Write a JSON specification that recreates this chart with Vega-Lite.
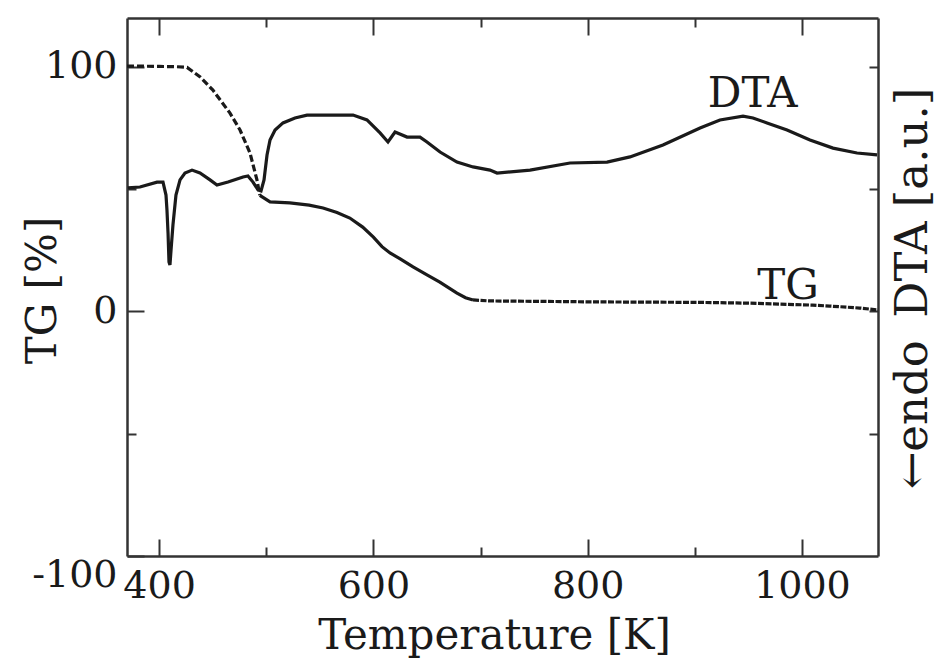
{
  "$schema": "https://vega.github.io/schema/vega-lite/v6.json",
  "width": 751,
  "height": 538,
  "autosize": {"type": "none"},
  "padding": {"left": 127, "top": 18, "right": 63, "bottom": 106},
  "background": "white",
  "config": {
    "view": {"stroke": null},
    "font": "DejaVu Serif",
    "axis": {
      "grid": false,
      "domainColor": "#333333",
      "domainWidth": 2.5,
      "tickColor": "#333333",
      "tickWidth": 2,
      "labelFont": "DejaVu Serif",
      "labelColor": "#1a1a1a",
      "labelFontSize": 38,
      "labelFlush": false,
      "labelOverlap": false,
      "titleFont": "DejaVu Serif",
      "titleColor": "#1a1a1a",
      "titleFontSize": 42,
      "titleFontWeight": "normal"
    }
  },
  "datasets": {
    "tg": [
      {"T": 370, "Y": 100.3}, {"T": 385, "Y": 100.3}, {"T": 400, "Y": 100.2}, {"T": 415, "Y": 100.1},
      {"T": 426, "Y": 99.8}, {"T": 438, "Y": 96.0}, {"T": 450, "Y": 90.6}, {"T": 466, "Y": 81.2},
      {"T": 475.5, "Y": 74.2}, {"T": 484.8, "Y": 64.8}, {"T": 491.3, "Y": 53.8}, {"T": 494, "Y": 47.5},
      {"T": 503.5, "Y": 44.8}, {"T": 522, "Y": 44.4}, {"T": 540, "Y": 43.5}, {"T": 553, "Y": 42.3},
      {"T": 566, "Y": 40.5}, {"T": 578, "Y": 38.2}, {"T": 590, "Y": 34.5}, {"T": 600, "Y": 30.4},
      {"T": 608, "Y": 26.5}, {"T": 615.5, "Y": 23.9}, {"T": 625, "Y": 21.5}, {"T": 637, "Y": 18.2},
      {"T": 650, "Y": 15.0}, {"T": 662, "Y": 12.0}, {"T": 678, "Y": 7.5}, {"T": 686, "Y": 5.6},
      {"T": 693, "Y": 4.7}, {"T": 709, "Y": 4.3}, {"T": 760, "Y": 4.1}, {"T": 811, "Y": 3.9},
      {"T": 860, "Y": 3.8}, {"T": 905, "Y": 3.7}, {"T": 950, "Y": 3.4}, {"T": 980, "Y": 3.0},
      {"T": 1010, "Y": 2.6}, {"T": 1026, "Y": 2.2}, {"T": 1054, "Y": 1.4}, {"T": 1071, "Y": 0.6}
    ],
    "dta": [
      {"T": 370.9, "Y": 50.5}, {"T": 382.1, "Y": 50.9}, {"T": 398.0, "Y": 52.9}, {"T": 403.6, "Y": 52.9},
      {"T": 406.4, "Y": 47.6}, {"T": 407.3, "Y": 41.5}, {"T": 408.3, "Y": 32.1}, {"T": 409.2, "Y": 20.2},
      {"T": 410.1, "Y": 19.0}, {"T": 411.1, "Y": 25.1}, {"T": 412.9, "Y": 35.4}, {"T": 415.7, "Y": 47.6},
      {"T": 419.5, "Y": 53.8}, {"T": 424.1, "Y": 56.6}, {"T": 430.7, "Y": 57.8}, {"T": 438.1, "Y": 56.6},
      {"T": 447.5, "Y": 53.8}, {"T": 454.0, "Y": 51.7}, {"T": 464.3, "Y": 52.9}, {"T": 478.3, "Y": 55.0},
      {"T": 482.9, "Y": 55.4}, {"T": 487.6, "Y": 52.9}, {"T": 492.3, "Y": 49.7}, {"T": 495.1, "Y": 49.3},
      {"T": 497.9, "Y": 53.8}, {"T": 500.7, "Y": 64.0}, {"T": 503.5, "Y": 70.1}, {"T": 508.2, "Y": 74.2},
      {"T": 515.6, "Y": 77.1}, {"T": 526.8, "Y": 79.1}, {"T": 538.0, "Y": 80.3}, {"T": 559.5, "Y": 80.3},
      {"T": 581.0, "Y": 80.3}, {"T": 594.0, "Y": 78.3}, {"T": 606.2, "Y": 73.0}, {"T": 613.6, "Y": 69.3},
      {"T": 620.2, "Y": 73.4}, {"T": 631.4, "Y": 71.3}, {"T": 643.5, "Y": 71.3}, {"T": 650.0, "Y": 69.3},
      {"T": 662.2, "Y": 65.2}, {"T": 678.0, "Y": 61.1}, {"T": 693.0, "Y": 59.1}, {"T": 708.8, "Y": 57.8},
      {"T": 715.4, "Y": 56.6}, {"T": 746.2, "Y": 57.8}, {"T": 783.5, "Y": 60.7}, {"T": 818.1, "Y": 61.1},
      {"T": 839.5, "Y": 63.2}, {"T": 870.3, "Y": 68.1}, {"T": 904.9, "Y": 75.0}, {"T": 923.5, "Y": 78.3},
      {"T": 945.0, "Y": 79.9}, {"T": 954.3, "Y": 79.1}, {"T": 967.4, "Y": 77.1}, {"T": 986.1, "Y": 74.2},
      {"T": 1007.5, "Y": 70.1}, {"T": 1029.0, "Y": 66.8}, {"T": 1051.4, "Y": 64.8}, {"T": 1070.1, "Y": 64.0}
    ]
  },
  "layer": [
    {
      "data": {"name": "tg"},
      "transform": [{"filter": "datum.T <= 494"}],
      "mark": {"type": "line", "color": "#1a1a1a", "strokeWidth": 3.2, "strokeDash": [7, 3]},
      "encoding": {
        "x": {
          "field": "T",
          "type": "quantitative",
          "scale": {"domain": [370, 1071], "nice": false, "zero": false},
          "axis": {
            "orient": "bottom",
            "values": [400, 500, 600, 700, 800, 900, 1000],
            "title": "Temperature [K]",
            "labelExpr": "datum.value % 200 === 0 ? '' + datum.value : ''",
            "tickSize": {"condition": {"test": "datum.value % 200 === 0", "value": -17}, "value": -9},
            "labelPadding": 28,
            "titleX": 367,
            "titleY": 92,
            "titleAlign": "center",
            "titleBaseline": "alphabetic"
          }
        },
        "y": {
          "field": "Y",
          "type": "quantitative",
          "scale": {"domain": [-100, 120], "nice": false, "zero": false},
          "axis": {
            "orient": "left",
            "values": [-100, -50, 0, 50, 100],
            "title": "TG [%]",
            "labelExpr": "datum.value % 100 === 0 ? '' + datum.value : ''",
            "labelBaseline": {"condition": {"test": "datum.value === -100", "value": "top"}, "value": "middle"},
            "tickSize": {"condition": {"test": "datum.value % 100 === 0", "value": -17}, "value": -9},
            "labelPadding": 27,
            "titleAngle": 270,
            "titleX": -72,
            "titleY": 272,
            "titleAlign": "center",
            "titleBaseline": "alphabetic"
          }
        }
      }
    },
    {
      "data": {"name": "tg"},
      "transform": [{"filter": "datum.T >= 494 && datum.T <= 693"}],
      "mark": {"type": "line", "color": "#1a1a1a", "strokeWidth": 3.2},
      "encoding": {
        "x": {"field": "T", "type": "quantitative", "axis": null},
        "y": {"field": "Y", "type": "quantitative", "axis": null}
      }
    },
    {
      "data": {"name": "tg"},
      "transform": [{"filter": "datum.T >= 693"}],
      "mark": {"type": "line", "color": "#1a1a1a", "strokeWidth": 3.2, "strokeDash": [6, 1.5]},
      "encoding": {
        "x": {"field": "T", "type": "quantitative", "axis": null},
        "y": {"field": "Y", "type": "quantitative", "axis": null}
      }
    },
    {
      "data": {"name": "dta"},
      "mark": {"type": "line", "color": "#1a1a1a", "strokeWidth": 3.2},
      "encoding": {
        "x": {
          "field": "T",
          "type": "quantitative",
          "axis": {
            "orient": "top",
            "values": [400, 500, 600, 700, 800, 900, 1000],
            "labels": false,
            "title": null,
            "tickSize": {"condition": {"test": "datum.value % 200 === 0", "value": -17}, "value": -9}
          }
        },
        "y": {
          "field": "Y",
          "type": "quantitative",
          "axis": {
            "orient": "right",
            "values": [-50, 0, 50, 100],
            "labels": false,
            "tickSize": -9,
            "title": "←endo\u2002DTA [a.u.]",
            "titleFontSize": 45,
            "titleAngle": 270,
            "titleX": 48,
            "titleY": 270,
            "titleAlign": "center",
            "titleBaseline": "alphabetic"
          }
        }
      }
    },
    {
      "data": {"values": [{}]},
      "mark": {"type": "text", "font": "DejaVu Serif", "fontSize": 42, "color": "#1a1a1a", "align": "center", "baseline": "alphabetic"},
      "encoding": {
        "x": {"datum": 954, "type": "quantitative", "axis": null},
        "y": {"datum": 83.5, "type": "quantitative", "axis": null},
        "text": {"value": "DTA"}
      }
    },
    {
      "data": {"values": [{}]},
      "mark": {"type": "text", "font": "DejaVu Serif", "fontSize": 42, "color": "#1a1a1a", "align": "center", "baseline": "alphabetic"},
      "encoding": {
        "x": {"datum": 987, "type": "quantitative", "axis": null},
        "y": {"datum": 5, "type": "quantitative", "axis": null},
        "text": {"value": "TG"}
      }
    }
  ],
  "resolve": {"axis": {"x": "independent", "y": "independent"}}
}
